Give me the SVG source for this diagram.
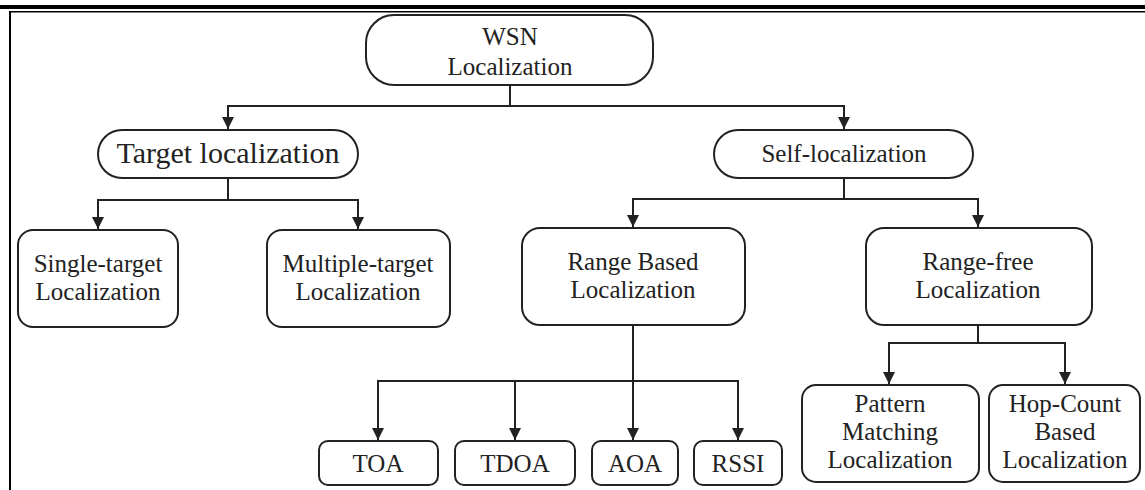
<svg xmlns="http://www.w3.org/2000/svg" width="1145" height="490" viewBox="0 0 1145 490">
<style>
.box{fill:#fff;stroke:#222;stroke-width:2}
.t{font-family:"Liberation Serif","Times New Roman",serif;font-size:25px;fill:#222;text-anchor:middle}
.big{font-size:30px}
.c{fill:none;stroke:#222;stroke-width:2}
</style>
<defs>
<marker id="ah" markerUnits="userSpaceOnUse" markerWidth="12" markerHeight="12" refX="12" refY="6" orient="auto">
<path d="M0,0 L12,6 L0,12 z" fill="#222"/>
</marker>
</defs>
<rect x="0" y="0" width="1145" height="490" fill="#fff"/>
<rect x="0" y="5" width="1145" height="4" fill="#000"/>
<rect x="9" y="11" width="1136" height="1.5" fill="#000"/>
<rect x="9" y="11" width="2" height="479" fill="#000"/>

<g id="connectors">
<path class="c" d="M510,85 V106 H228 V129" marker-end="url(#ah)"/>
<path class="c" d="M510,106 H844 V129" marker-end="url(#ah)"/>
<path class="c" d="M228,178 V200 H98 V229" marker-end="url(#ah)"/>
<path class="c" d="M228,200 H358 V229" marker-end="url(#ah)"/>
<path class="c" d="M844,178 V199 H633 V227" marker-end="url(#ah)"/>
<path class="c" d="M844,199 H978 V227" marker-end="url(#ah)"/>
<path class="c" d="M633,325 V440" marker-end="url(#ah)"/>
<path class="c" d="M633,381 H378 V440" marker-end="url(#ah)"/>
<path class="c" d="M515,381 V440" marker-end="url(#ah)"/>
<path class="c" d="M633,381 H738 V440" marker-end="url(#ah)"/>
<path class="c" d="M978,325 V343 H889 V384" marker-end="url(#ah)"/>
<path class="c" d="M978,343 H1065 V384" marker-end="url(#ah)"/>
</g>

<g id="wsn">
<rect class="box" x="366" y="15" width="287" height="70" rx="28"/>
<text class="t" x="510" y="45">WSN</text>
<text class="t" x="510" y="75">Localization</text>
</g>
<g id="target">
<rect class="box" x="98" y="130" width="260" height="48" rx="24"/>
<text class="t big" x="228" y="163">Target localization</text>
</g>
<g id="self">
<rect class="box" x="714" y="130" width="259" height="48" rx="24"/>
<text class="t" x="844" y="162">Self-localization</text>
</g>
<g id="single">
<rect class="box" x="18" y="230" width="160" height="97" rx="15"/>
<text class="t" x="98" y="272">Single-target</text>
<text class="t" x="98" y="300">Localization</text>
</g>
<g id="multiple">
<rect class="box" x="267" y="230" width="183" height="97" rx="15"/>
<text class="t" x="358" y="272">Multiple-target</text>
<text class="t" x="358" y="300">Localization</text>
</g>
<g id="rangebased">
<rect class="box" x="522" y="228" width="223" height="97" rx="18"/>
<text class="t" x="633" y="270">Range Based</text>
<text class="t" x="633" y="298">Localization</text>
</g>
<g id="rangefree">
<rect class="box" x="866" y="228" width="226" height="97" rx="18"/>
<text class="t" x="978" y="270">Range-free</text>
<text class="t" x="978" y="298">Localization</text>
</g>
<g id="toa">
<rect class="box" x="319" y="441" width="119" height="44" rx="9"/>
<text class="t" x="378" y="472">TOA</text>
</g>
<g id="tdoa">
<rect class="box" x="455" y="441" width="120" height="44" rx="9"/>
<text class="t" x="515" y="472">TDOA</text>
</g>
<g id="aoa">
<rect class="box" x="592" y="441" width="86" height="44" rx="9"/>
<text class="t" x="635" y="472">AOA</text>
</g>
<g id="rssi">
<rect class="box" x="694" y="441" width="88" height="44" rx="9"/>
<text class="t" x="738" y="472">RSSI</text>
</g>
<g id="pattern">
<rect class="box" x="802" y="385" width="177" height="97" rx="14"/>
<text class="t" x="890" y="412">Pattern</text>
<text class="t" x="890" y="440">Matching</text>
<text class="t" x="890" y="468">Localization</text>
</g>
<g id="hopcount">
<rect class="box" x="989" y="385" width="151" height="97" rx="14"/>
<text class="t" x="1065" y="412">Hop-Count</text>
<text class="t" x="1065" y="440">Based</text>
<text class="t" x="1065" y="468">Localization</text>
</g>
</svg>
